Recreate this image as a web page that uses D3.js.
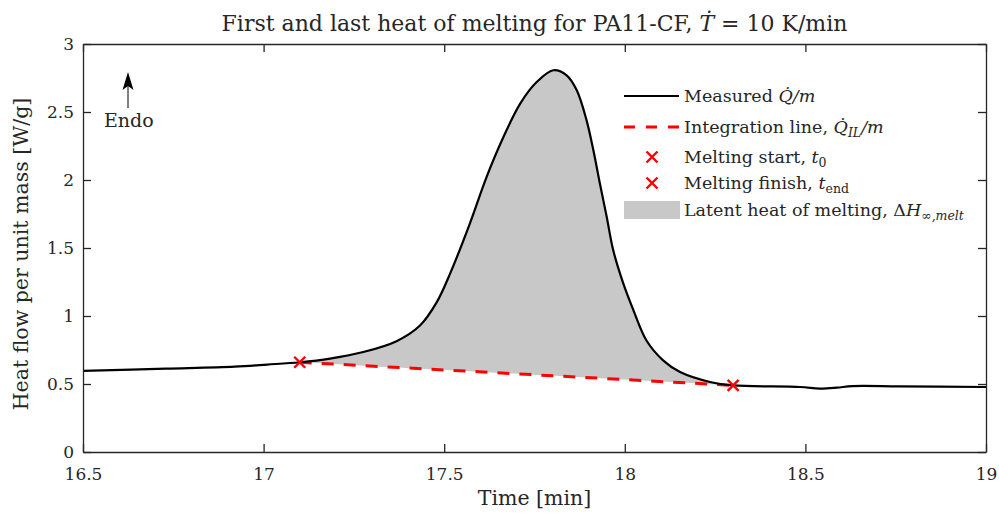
<!DOCTYPE html>
<html>
<head>
<meta charset="utf-8">
<script src="https://cdn.jsdelivr.net/npm/d3@7.9.0/dist/d3.min.js"></script>
<style>
  body { margin: 0; background: #fff; }
  svg { font-family: "DejaVu Serif", serif; }
</style>
</head>
<body>
<svg id="chart" width="999" height="514"></svg>
<script>
// measured curve (time in min, heat flow in W/g)
const time = [16.5, 16.73, 16.92, 17.01, 17.1, 17.184, 17.276, 17.368, 17.433, 17.479, 17.516, 17.571, 17.617, 17.664, 17.71, 17.756, 17.802, 17.839, 17.867, 17.894, 17.913, 17.931, 17.95, 17.968, 17.996, 18.024, 18.06, 18.106, 18.153, 18.236, 18.3, 18.485, 18.54, 18.587, 18.63, 18.76, 19.0];
const heatFlow = [0.596, 0.613, 0.628, 0.643, 0.66, 0.687, 0.735, 0.815, 0.93, 1.1, 1.31, 1.68, 2.02, 2.316, 2.56, 2.72, 2.807, 2.77, 2.66, 2.44, 2.218, 1.974, 1.728, 1.483, 1.238, 1.042, 0.82, 0.674, 0.588, 0.515, 0.49, 0.478, 0.466, 0.473, 0.485, 0.483, 0.478];

const meltStart = { t: 17.1, q: 0.66 };
const meltEnd = { t: 18.3, q: 0.49 };

const xTicks = [16.5, 17, 17.5, 18, 18.5, 19];
const yTicks = [0, 0.5, 1, 1.5, 2, 2.5, 3];

const data = time.map((t, i) => ({ t, q: heatFlow[i] }));

const svg = d3.select('#chart');
const margin = { top: 44, right: 13, bottom: 62, left: 83 };
const width = 999, height = 514;
const ink = '#262626';

const x = d3.scaleLinear().domain([16.5, 19]).range([margin.left, width - margin.right]);
const y = d3.scaleLinear().domain([0, 3]).range([height - margin.bottom, margin.top]);

// integration line between start and end
const ilLine = d3.scaleLinear().domain([meltStart.t, meltEnd.t]).range([meltStart.q, meltEnd.q]);

const curve = d3.curveCatmullRom.alpha(0.5);

// filled area (latent heat)
const inside = data.filter(d => d.t >= meltStart.t && d.t <= meltEnd.t);
svg.append('path')
  .datum(inside)
  .attr('fill', '#c8c8c8')
  .attr('d', d3.area()
    .x(d => x(d.t))
    .y0(d => y(ilLine(d.t)))
    .y1(d => y(d.q))
    .curve(curve));

// integration line
svg.append('line')
  .attr('x1', x(meltStart.t)).attr('y1', y(meltStart.q))
  .attr('x2', x(meltEnd.t)).attr('y2', y(meltEnd.q))
  .attr('stroke', '#ff0000')
  .attr('stroke-width', 3)
  .attr('stroke-dasharray', '12,10');

// measured curve
svg.append('path')
  .datum(data)
  .attr('fill', 'none')
  .attr('stroke', '#000')
  .attr('stroke-width', 2.2)
  .attr('d', d3.line().x(d => x(d.t)).y(d => y(d.q)).curve(curve));

// markers
function cross(g, cx, cy, s) {
  g.append('path')
    .attr('d', `M${cx - s},${cy - s}L${cx + s},${cy + s}M${cx - s},${cy + s}L${cx + s},${cy - s}`)
    .attr('stroke', '#ff0000')
    .attr('stroke-width', 2.4)
    .attr('fill', 'none');
}
[meltStart, meltEnd].forEach(p => cross(svg, x(p.t), y(p.q), 5.5));

// axes (boxed, inward ticks)
svg.append('g')
  .attr('transform', `translate(0,${y(0)})`)
  .call(d3.axisBottom(x).tickValues(xTicks).tickSizeInner(-8).tickSizeOuter(0).tickPadding(16).tickFormat(d3.format('')));
svg.append('g')
  .attr('transform', `translate(${x(16.5)},0)`)
  .call(d3.axisLeft(y).tickValues(yTicks).tickSizeInner(-8).tickSizeOuter(0).tickPadding(9).tickFormat(d3.format('')));
svg.append('g')
  .attr('transform', `translate(0,${y(3)})`)
  .call(d3.axisTop(x).tickValues(xTicks).tickSizeInner(-8).tickSizeOuter(0).tickFormat(''));
svg.append('g')
  .attr('transform', `translate(${x(19)},0)`)
  .call(d3.axisRight(y).tickValues(yTicks).tickSizeInner(-8).tickSizeOuter(0).tickFormat(''));

svg.selectAll('.domain, .tick line').attr('stroke', ink).attr('stroke-width', 1.3);
svg.selectAll('.tick text')
  .attr('fill', ink)
  .style('font-family', '"DejaVu Serif", serif')
  .style('font-size', '17px');

// title
const title = svg.append('text')
  .attr('x', (x(16.5) + x(19)) / 2)
  .attr('y', 31)
  .attr('text-anchor', 'middle')
  .attr('font-size', 22)
  .attr('fill', ink);
title.append('tspan').text('First and last heat of melting for PA11-CF, ');
title.append('tspan').attr('font-style', 'italic').text('Ṫ');
title.append('tspan').text(' = 10 K/min');

// axis labels
svg.append('text')
  .attr('x', (x(16.5) + x(19)) / 2)
  .attr('y', 505)
  .attr('text-anchor', 'middle')
  .attr('font-size', 20.5)
  .attr('fill', ink)
  .text('Time [min]');

svg.append('text')
  .attr('transform', `translate(28,254) rotate(-90)`)
  .attr('text-anchor', 'middle')
  .attr('font-size', 20.5)
  .attr('fill', ink)
  .text('Heat flow per unit mass [W/g]');

// endo arrow
svg.append('line')
  .attr('x1', 128).attr('y1', 108)
  .attr('x2', 128).attr('y2', 86)
  .attr('stroke', '#000')
  .attr('stroke-width', 1);
svg.append('path')
  .attr('d', 'M128,72L133.5,90L128,86L122.5,90Z')
  .attr('fill', '#000');
svg.append('text')
  .attr('x', 104).attr('y', 127)
  .attr('font-size', 19)
  .attr('fill', ink)
  .text('Endo');

// legend
const lg = svg.append('g');
const lx0 = 624, lx1 = 679, tx = 684;
const rows = [96, 127, 157, 183, 210];
const fs = 17.5;

lg.append('line').attr('x1', lx0).attr('x2', lx1).attr('y1', rows[0]).attr('y2', rows[0])
  .attr('stroke', '#000').attr('stroke-width', 2.2);
lg.append('line').attr('x1', lx0).attr('x2', lx1).attr('y1', rows[1]).attr('y2', rows[1])
  .attr('stroke', '#ff0000').attr('stroke-width', 3).attr('stroke-dasharray', '11,11');
cross(lg, 652, rows[2], 5.5);
cross(lg, 652, rows[3], 5.5);
lg.append('rect').attr('x', lx0).attr('y', rows[4] - 9).attr('width', 56).attr('height', 18).attr('fill', '#c8c8c8');

function legendText(yy) {
  return lg.append('text').attr('x', tx).attr('y', yy + 6).attr('font-size', fs).attr('fill', ink);
}
let t = legendText(rows[0]);
t.append('tspan').text('Measured ');
t.append('tspan').attr('font-style', 'italic').text('Q̇/m');

t = legendText(rows[1]);
t.append('tspan').text('Integration line, ');
t.append('tspan').attr('font-style', 'italic').text('Q̇');
t.append('tspan').attr('font-style', 'italic').attr('font-size', 12.5).attr('dy', 4).text('IL');
t.append('tspan').attr('font-style', 'italic').attr('dy', -4).text('/m');

t = legendText(rows[2]);
t.append('tspan').text('Melting start, ');
t.append('tspan').attr('font-style', 'italic').text('t');
t.append('tspan').attr('font-size', 12.5).attr('dy', 4).text('0');

t = legendText(rows[3]);
t.append('tspan').text('Melting finish, ');
t.append('tspan').attr('font-style', 'italic').text('t');
t.append('tspan').attr('font-size', 12.5).attr('dy', 4).text('end');

t = legendText(rows[4]);
t.append('tspan').text('Latent heat of melting, Δ');
t.append('tspan').attr('font-style', 'italic').text('H');
t.append('tspan').attr('font-style', 'italic').attr('font-size', 12.5).attr('dy', 4).text('∞,melt');
</script>
</body>
</html>
